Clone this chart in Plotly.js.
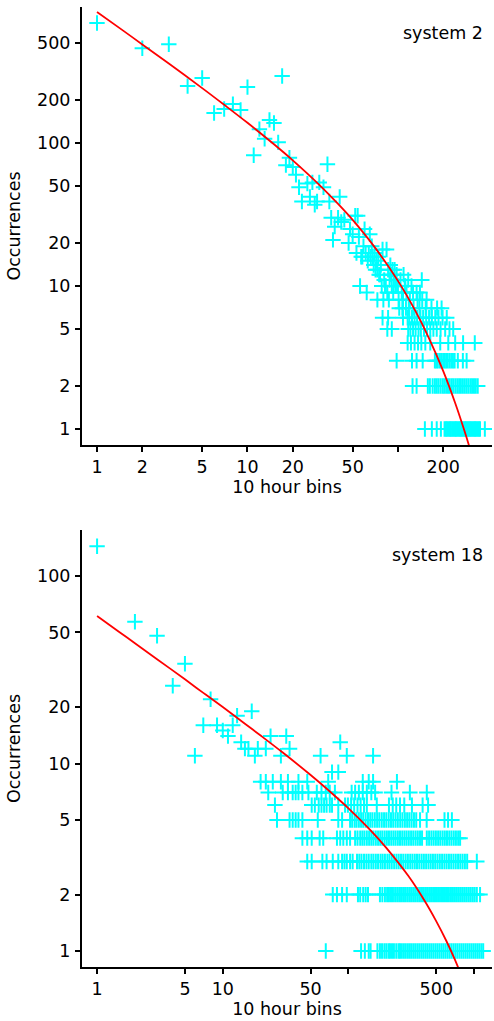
<!DOCTYPE html>
<html>
<head>
<meta charset="utf-8">
<script src="https://cdn.plot.ly/plotly-3.0.1.min.js"></script>
<style>html,body{margin:0;padding:0;background:#fff;overflow:hidden}#chart{width:494px;height:1021px}</style>
</head>
<body>
<div id="chart"></div>
<script>
// ---------- system 2 ----------
const s2HiX = [1,2,3,4,5,6,7,8,9,10,11,12,13,14,15,16,17,18,19,20,21,22,23,25,26,27,28,29,30,32,34,35,36,37,38,40,41,42,44,47,48,50,52,53,54,55,57,58,59,60,61,63,64,65,66,67,68,69,70,71,72,73,74,75,76,77,79,81,82,84,86,88,89,90,92,94,95,97,98,104,109,112,117,144];
const s2HiY = [690,460,490,250,285,162,173,187,170,246,82,125,107,145,138,101,294,70,79,68,60,49,39,52,42,53,37,39,53,49,71,39,30,21,26,30,42,28,29,20,25,23,31,17,31,22,16,16,19,25,17,15,17,23,16,19,16,14,17,13,15,13,16,12,12,14,18,11,10,18,13,11,14,12,13,11,13,10,12,11,12,10,11,11];
const s2Row10 = [56,78,83,91,96,100,111,123];
const s2Row9 = [62,85,93,106,114,126,133,140];
const s2Row8 = [73,80,87,101,108,120,135,145,155];
const s2Row7 = [102,107,113,118,127,139,153,167,182,195];
const s2Row6 = [79,86,108,116,119,124,129,134,141,147,154,161,168,177,186,198,211];
const s2Row5 = [85,91,117,121,126,131,137,142,149,156,164,172,181,192,206,220,233];
const s2Row4 = [116,122,129,136,143,152,164,191,216,240,271,324];
const s2Row3 = [98,124,133,146,176,180,184,190,195,200,204,209,214,220,226,232,238,250,270,286];
const s2Row2 = [125,133,158,163,170,176,181,186,192,198,203,209,215,221,228,234,241,248,255,262,270,278,286,294,303,311,320,329,339];
const s2Row1 = [151,168,181,193,204,208,212,217,221,225,230,234,239,243,248,253,258,263,268,273,279,284,290,295,301,307,313,319,325,331,338,344,351,378];
const s2FitX = [1,1.5,2,3,5,7,10,15,20,30,40,50,70,100,130,160,200,240,280,300];
const s2FitY = [823,608,489,359.5,242,185,138.4,97.9,75.6,51.0,37.5,29.0,18.7,10.86,6.75,4.36,2.54,1.52,0.933,0.735];

// ---------- system 18 ----------
const s18HiX = [1,2,3,4,5,6,7,8,9,10,11,12,13,14,15,16,17,18,19,22,24,29,32,34,60,74,83,86,97,157];
const s18HiY = [144,57,48,26,34,11,16,22,16,15,14,16,18,13,12,12,19,11,12,12,14,11,14,12,11,9,9,13,11,11];
const s18Row8 = [20,22,25,29,33,40,47,69,130,145,157,243];
const s18Row7 = [23,30,33,36,38,40,43,48,56,61,66,71,78,106,113,121,130,140,152,163,220,308,420];
const s18Row6 = [26,51,54,58,61,64,67,71,74,83,94,99,105,111,118,125,133,140,168,210,225,240,257,278,320,389,430];
const s18Row5 = [27,34,36,38,40,43,57,83,89,103,107,112,116,121,126,131,137,143,149,155,162,169,176,184,192,200,209,218,227,237,247,258,269,281,293,305,318,332,346,371,419,581,620,665];
const s18Row4 = [43,47,51,59,63,81,86,91,97,103,113,118,124,129,134,140,146,152,158,165,172,179,186,194,202,210,219,228,237,247,257,268,279,290,302,315,328,342,356,371,385,420,438,457,476,496,517,538,561,584,608,634,660,688,716,746,773];
const s18Row3 = [47,51,62,67,75,83,89,93,97,103,108,117,122,127,133,139,145,152,158,165,172,180,187,195,204,212,221,231,241,251,262,273,285,297,310,323,337,351,366,382,398,415,433,451,470,490,511,533,556,580,604,630,657,685,714,745,776,809,844,880,1050];
const s18Row2 = [75,81,89,97,119,124,131,137,143,178,186,195,203,210,218,226,235,244,253,262,272,282,293,304,315,327,339,352,365,378,392,407,422,438,454,471,488,506,525,545,565,586,608,630,654,678,703,729,756,784,813,843,874,907,940,975,1010,1050,1114];
const s18Row1 = [66,126,135,145,150,170,178,185,193,200,208,214,222,230,240,250,257,266,276,286,297,308,319,331,343,356,369,383,397,412,427,443,459,476,494,512,531,551,571,592,614,637,660,685,710,736,764,792,821,852,883,916,950,985,1021,1059,1098,1140,1180];
const s18FitX = [1,1.5,2,3,5,7,10,15,20,30,50,70,100,150,200,300,400,500,600,700,800];
const s18FitY = [61.2,50.3,43.8,36.0,28.1,23.8,19.99,16.3,14.1,11.44,8.68,7.16,5.77,4.40,3.55,2.51,1.87,1.44,1.135,0.905,0.728];

// tick labels
const s2XTicks = [1,2,5,10,20,50,100,200];
const s2XText = ['1','2','5','10','20','50','','200'];
const s2YTicks = [1,2,5,10,20,50,100,200,500];
const s18XTicks = [1,5,10,50,100,500,1000];
const s18XText = ['1','5','10','50','','500',''];
const s18YTicks = [1,2,5,10,20,50,100];
const panelLabels = ['system 2','system 18'];
const xTitle = '10 hour bins';
const yTitle = 'Occurrences';

function collect(hiX, hiY, rows) {
  const xs = hiX.slice(), ys = hiY.slice();
  rows.forEach(function (r) {
    r.vals.forEach(function (v) { xs.push(v); ys.push(r.y); });
  });
  return {x: xs, y: ys};
}

const s2 = collect(s2HiX, s2HiY, [
  {y: 10, vals: s2Row10}, {y: 9, vals: s2Row9}, {y: 8, vals: s2Row8}, {y: 7, vals: s2Row7},
  {y: 6, vals: s2Row6}, {y: 5, vals: s2Row5}, {y: 4, vals: s2Row4}, {y: 3, vals: s2Row3},
  {y: 2, vals: s2Row2}, {y: 1, vals: s2Row1}
]);
const s18 = collect(s18HiX, s18HiY, [
  {y: 8, vals: s18Row8}, {y: 7, vals: s18Row7}, {y: 6, vals: s18Row6}, {y: 5, vals: s18Row5},
  {y: 4, vals: s18Row4}, {y: 3, vals: s18Row3}, {y: 2, vals: s18Row2}, {y: 1, vals: s18Row1}
]);

const CYAN = '#00FFFF';
const FONT = {family: 'DejaVu Sans, Liberation Sans, Arial, sans-serif', size: 17.5, color: '#000'};
const marker = {symbol: 'cross-thin', size: 11, color: CYAN, line: {color: CYAN, width: 2}};

const traces = [
  {x: s2.x, y: s2.y, xaxis: 'x', yaxis: 'y', mode: 'markers', type: 'scatter', marker: marker, hoverinfo: 'x+y'},
  {x: s2FitX, y: s2FitY, xaxis: 'x', yaxis: 'y', mode: 'lines', type: 'scatter', line: {color: '#FF0000', width: 1.8, shape: 'spline'}},
  {x: s18.x, y: s18.y, xaxis: 'x2', yaxis: 'y2', mode: 'markers', type: 'scatter', marker: marker, hoverinfo: 'x+y'},
  {x: s18FitX, y: s18FitY, xaxis: 'x2', yaxis: 'y2', mode: 'lines', type: 'scatter', line: {color: '#FF0000', width: 1.8, shape: 'spline'}}
];

function axisBase() {
  return {
    type: 'log', showgrid: false, zeroline: false, showline: true, linecolor: '#000', linewidth: 2,
    ticks: 'outside', ticklen: 5, tickwidth: 2, tickcolor: '#000', tickfont: FONT,
    tickmode: 'array', automargin: false
  };
}

const layout = {
  width: 494, height: 1021,
  margin: {l: 82, r: 2, t: 7, b: 54},
  paper_bgcolor: '#fff', plot_bgcolor: '#fff',
  showlegend: false,
  font: FONT,
  xaxis: Object.assign(axisBase(), {
    domain: [0, 1], anchor: 'y', range: [-0.0997, 2.625],
    tickvals: s2XTicks, ticktext: s2XText, ticklabelstandoff: 0,
    title: {text: xTitle, font: FONT, standoff: 3}
  }),
  yaxis: Object.assign(axisBase(), {
    domain: [0.54375, 1], anchor: 'x', range: [-0.112, 2.951],
    tickvals: s2YTicks, ticktext: s2YTicks.map(String), ticklabelstandoff: 1,
    title: {text: yTitle, font: FONT, standoff: 12}
  }),
  xaxis2: Object.assign(axisBase(), {
    domain: [0, 1], anchor: 'y2', range: [-0.12, 3.142],
    tickvals: s18XTicks, ticktext: s18XText, ticklabelstandoff: 0,
    title: {text: xTitle, font: FONT, standoff: 3}
  }),
  yaxis2: Object.assign(axisBase(), {
    domain: [0, 0.45521], anchor: 'x2', range: [-0.085, 2.245],
    tickvals: s18YTicks, ticktext: s18YTicks.map(String), ticklabelstandoff: 1,
    title: {text: yTitle, font: FONT, standoff: 12}
  }),
  annotations: [
    {text: panelLabels[0], xref: 'paper', yref: 'paper', x: 0.983, y: 0.973, xanchor: 'right', yanchor: 'middle', showarrow: false, font: FONT},
    {text: panelLabels[1], xref: 'paper', yref: 'paper', x: 0.983, y: 0.429, xanchor: 'right', yanchor: 'middle', showarrow: false, font: FONT}
  ]
};

Plotly.newPlot('chart', traces, layout, {staticPlot: true, displayModeBar: false});
</script>
</body>
</html>
